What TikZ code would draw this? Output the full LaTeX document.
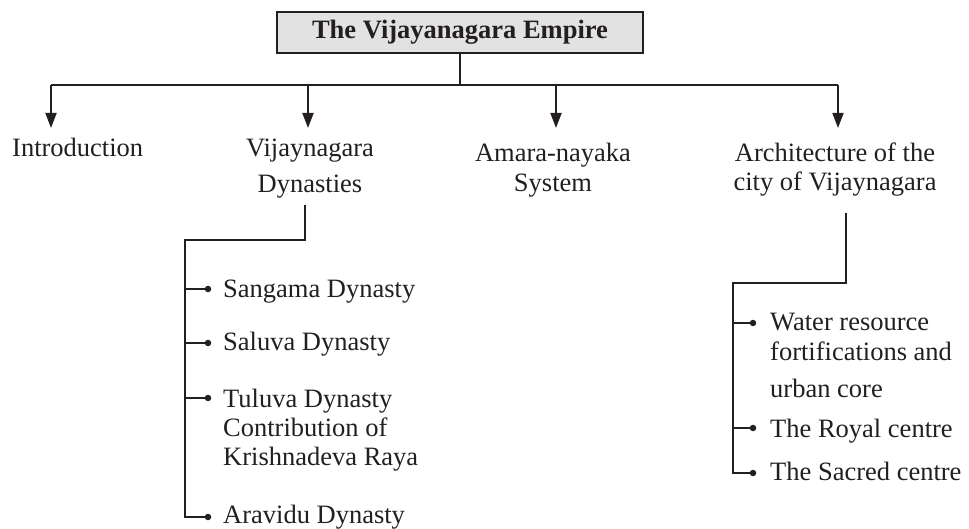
\documentclass[tikz,border=0pt]{standalone}
\usepackage{fontspec}
\setmainfont{Liberation Serif}
\usetikzlibrary{arrows.meta}
\definecolor{ink}{HTML}{231F20}
\definecolor{boxfill}{HTML}{E2E2E2}
\begin{document}
\begin{tikzpicture}[x=1pt,y=-1pt,
  conn/.style={draw=ink, line width=1.8pt},
  arr/.style={conn, -{Triangle[length=15pt,width=11pt]}},
  lbl/.style={text=ink, inner sep=0pt, font=\fontsize{26.5}{30}\selectfont},
  headbox/.style={draw=ink, line width=2pt, fill=boxfill, minimum width=366pt,
    minimum height=41pt, inner sep=0pt, text=ink,
    font=\fontsize{26.5}{30}\selectfont\bfseries},
  bullet/.style={circle, fill=ink, inner sep=0pt, minimum size=6.5pt},
  item/.style={lbl, anchor=base west, align=left}]
\useasboundingbox (0,0) rectangle (969,529);

% title box and the bus below it
\node[headbox] (title) at (460,32.5) {The Vijayanagara Empire};
\coordinate (hub) at (460,85);
\coordinate (b1) at (51,85);
\coordinate (b2) at (308,85);
\coordinate (b3) at (556,85);
\coordinate (b4) at (838,85);
\draw[conn] (title.south) -- (hub);
\draw[conn] (b1) -- (b4);

% four main topics (multi-line nodes sit on the baseline of their last line)
\node[lbl, anchor=base west] (intro) at (12,157) {Introduction};
\node[lbl, anchor=base, align=center, font=\fontsize{26.5}{36}\selectfont] (dyn) at (310,193) {Vijaynagara\\Dynasties};
\node[lbl, anchor=base, align=center, font=\fontsize{26.5}{30}\selectfont] (amara) at (553,192) {Amara-nayaka\\System};
\node[lbl, anchor=base, align=center, font=\fontsize{26.5}{29}\selectfont] (arch) at (835,191) {Architecture of the\\city of Vijaynagara};

\coordinate (t1) at (51,128);
\coordinate (t2) at (308,128);
\coordinate (t3) at (556,128);
\coordinate (t4) at (838,128);
\draw[arr] (b1) -- (t1);
\draw[arr] (b2) -- (t2);
\draw[arr] (b3) -- (t3);
\draw[arr] (b4) -- (t4);

% dynasties list
\coordinate (dtop) at (305,205);
\coordinate (dcorner) at (185,240);
\node[bullet] (d1) at (208,289) {};
\node[bullet] (d2) at (208,343) {};
\node[bullet] (d3) at (208,398) {};
\node[bullet] (d4) at (208,517) {};
\node[item] (s1) at (223,298) {Sangama Dynasty};
\node[item] (s2) at (223,350) {Saluva Dynasty};
\node[item, font=\fontsize{26.5}{29}\selectfont] (s3) at (223,465) {Tuluva Dynasty\\Contribution of\\Krishnadeva Raya};
\node[item] (s4) at (223,523) {Aravidu Dynasty};
\draw[conn] (dtop) |- (dcorner) |- (d4);
\draw[conn] (d1 -| dcorner) -- (d1);
\draw[conn] (d2 -| dcorner) -- (d2);
\draw[conn] (d3 -| dcorner) -- (d3);

% architecture list
\coordinate (atop) at (846,213);
\coordinate (acorner) at (733,283);
\node[bullet] (r1) at (753,323) {};
\node[bullet] (r2) at (753,428) {};
\node[bullet] (r3) at (753,473) {};
\node[item, font=\fontsize{26.5}{30}\selectfont] (w1) at (770,397) {Water resource\\fortifications and\\[7pt]urban core};
\node[item] (w2) at (770,437) {The Royal centre};
\node[item] (w3) at (770,480) {The Sacred centre};
\draw[conn] (atop) |- (acorner) |- (r3);
\draw[conn] (r1 -| acorner) -- (r1);
\draw[conn] (r2 -| acorner) -- (r2);
\end{tikzpicture}
\end{document}
